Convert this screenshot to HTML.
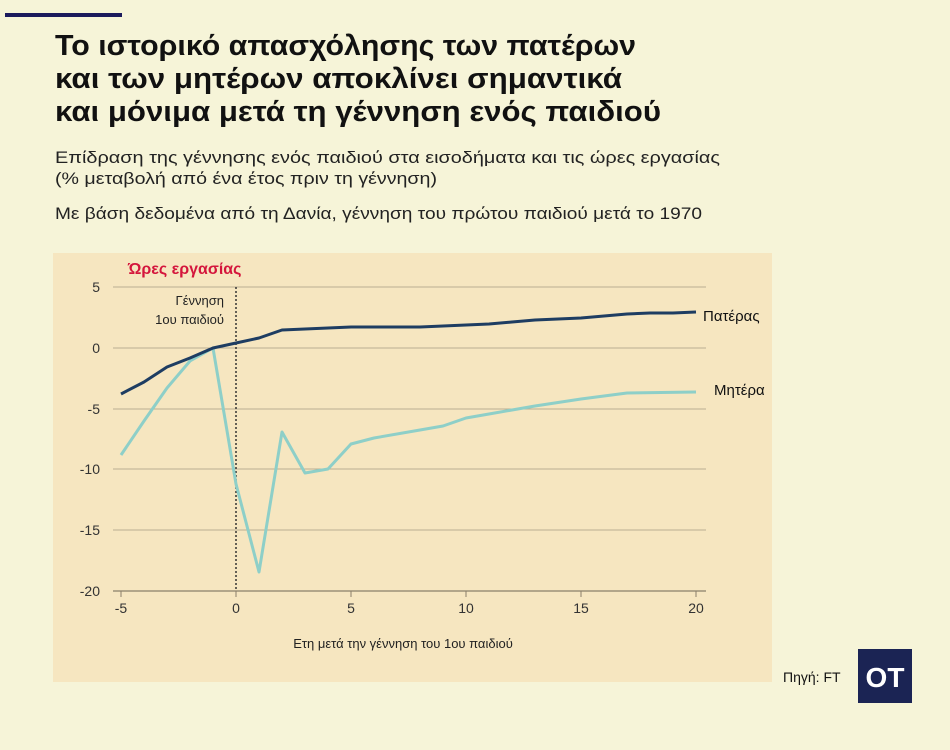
<!DOCTYPE html>
<html><head><meta charset="utf-8"><style>
html,body{margin:0;padding:0;background:#f6f4d8;}
svg{display:block;font-family:"Liberation Sans",sans-serif;}
</style></head><body>
<svg width="950" height="750" viewBox="0 0 950 750" xmlns="http://www.w3.org/2000/svg">
<rect width="950" height="750" fill="#f6f4d8"/>
<rect x="5" y="13" width="117" height="4" fill="#1b1a5c"/>
<g font-weight="bold" font-size="29" fill="#111">
<text x="55" y="55" textLength="581" lengthAdjust="spacingAndGlyphs">Το ιστορικό απασχόλησης των πατέρων</text>
<text x="55" y="88" textLength="567" lengthAdjust="spacingAndGlyphs">και των μητέρων αποκλίνει σημαντικά</text>
<text x="55" y="121" textLength="606" lengthAdjust="spacingAndGlyphs">και μόνιμα μετά τη γέννηση ενός παιδιού</text>
</g>
<g font-size="17" fill="#222">
<text x="55" y="163" textLength="665" lengthAdjust="spacingAndGlyphs">Επίδραση της γέννησης ενός παιδιού στα εισοδήματα και τις ώρες εργασίας</text>
<text x="55" y="184" textLength="382" lengthAdjust="spacingAndGlyphs">(% μεταβολή από ένα έτος πριν τη γέννηση)</text>
<text x="55" y="219" textLength="647" lengthAdjust="spacingAndGlyphs">Με βάση δεδομένα από τη Δανία, γέννηση του πρώτου παιδιού μετά το 1970</text>
</g>
<rect x="53" y="253" width="719" height="429" fill="#f6e6c0"/>
<text x="128" y="274" font-size="16" font-weight="bold" fill="#d4163c">Ώρες εργασίας</text>
<g stroke="#b9ad92" stroke-width="1">
<line x1="113" y1="287" x2="706" y2="287"/>
<line x1="113" y1="348" x2="706" y2="348"/>
<line x1="113" y1="409" x2="706" y2="409"/>
<line x1="113" y1="469" x2="706" y2="469"/>
<line x1="113" y1="530" x2="706" y2="530"/>
</g>
<line x1="113" y1="591" x2="706" y2="591" stroke="#8a7f6a" stroke-width="1.2"/>
<g stroke="#8a7f6a"><line x1="121" y1="591" x2="121" y2="597"/><line x1="236" y1="591" x2="236" y2="597"/><line x1="351" y1="591" x2="351" y2="597"/><line x1="466" y1="591" x2="466" y2="597"/><line x1="581" y1="591" x2="581" y2="597"/><line x1="696" y1="591" x2="696" y2="597"/></g>
<g font-size="14" fill="#333" text-anchor="end">
<text x="100" y="292">5</text><text x="100" y="353">0</text><text x="100" y="414">-5</text><text x="100" y="474">-10</text><text x="100" y="535">-15</text><text x="100" y="596">-20</text>
</g>
<g font-size="14" fill="#333" text-anchor="middle">
<text x="121" y="613">-5</text><text x="236" y="613">0</text><text x="351" y="613">5</text><text x="466" y="613">10</text><text x="581" y="613">15</text><text x="696" y="613">20</text>
</g>
<text x="403" y="648" font-size="13" fill="#222" text-anchor="middle">Ετη μετά την γέννηση του 1ου παιδιού</text>
<line x1="236" y1="287" x2="236" y2="591" stroke="#333" stroke-width="1.5" stroke-dasharray="2,2"/>
<g font-size="13" fill="#222" text-anchor="end"><text x="224" y="305">Γέννηση</text><text x="224" y="324">1ου παιδιού</text></g>
<polyline fill="none" stroke="#8ecfc8" stroke-width="3" stroke-linejoin="round" points="121,455 144,421 167,388 190,361 213,348 236,484 259,572 282,432 305,473 328,469 351,444 374,438 420,430 443,426 466,418 489,414 512,410 535,406 581,399 627,393 696,392"/>
<polyline fill="none" stroke="#1e3d62" stroke-width="3" stroke-linejoin="round" points="121,394 144,382 167,367 190,358 213,348 236,343 259,338 282,330 305,329 328,328 351,327 420,327 443,326 466,325 489,324 512,322 535,320 581,318 627,314 650,313 673,313 696,312"/>
<text x="703" y="321" font-size="15" fill="#111">Πατέρας</text>
<text x="714" y="395" font-size="15" fill="#111">Μητέρα</text>
<text x="783" y="682" font-size="14" fill="#111">Πηγή: FT</text>
<rect x="858" y="649" width="54" height="54" fill="#1b2454"/>
<text x="885" y="687" font-size="28" font-weight="bold" fill="#fff" text-anchor="middle">OT</text>
</svg>
</body></html>
